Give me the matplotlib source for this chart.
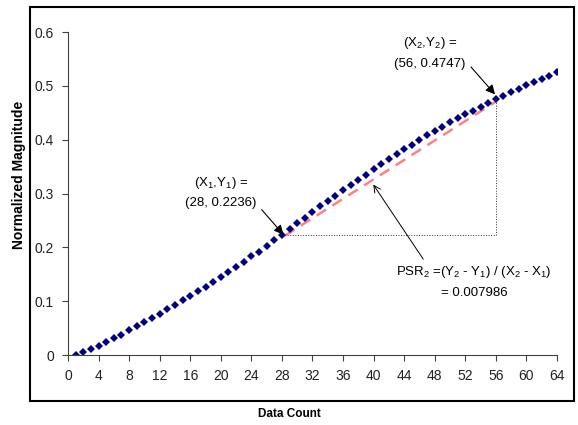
import matplotlib
matplotlib.use("Agg")
from matplotlib import pyplot as plt
from matplotlib.patches import Rectangle

plt.rcParams["font.family"] = ["Liberation Sans", "DejaVu Sans"]
plt.rcParams["mathtext.fontset"] = "custom"
plt.rcParams["mathtext.rm"] = "Liberation Sans"
plt.rcParams["mathtext.it"] = "Liberation Sans:italic"

# data
data_count = list(range(1, 65))
magnitude = [
    0.000, 0.005, 0.011, 0.017, 0.024, 0.031, 0.038, 0.046,
    0.053, 0.061, 0.069, 0.077, 0.085, 0.093, 0.102, 0.110,
    0.119, 0.127, 0.136, 0.145, 0.154, 0.164, 0.173, 0.183,
    0.192, 0.202, 0.213, 0.2236, 0.234, 0.245, 0.255, 0.266,
    0.276, 0.286, 0.296, 0.306, 0.316, 0.326, 0.335, 0.345,
    0.354, 0.364, 0.373, 0.382, 0.390, 0.399, 0.408, 0.416,
    0.424, 0.432, 0.440, 0.447, 0.454, 0.461, 0.468, 0.4747,
    0.481, 0.488, 0.494, 0.501, 0.507, 0.513, 0.519, 0.525,
]
x1, y1 = 28, 0.2236
x2, y2 = 56, 0.4747
x_ticks = list(range(0, 65, 4))
y_ticks = [0, 0.1, 0.2, 0.3, 0.4, 0.5, 0.6]
y_tick_labels = ["0", "0.1", "0.2", "0.3", "0.4", "0.5", "0.6"]

fig = plt.figure(figsize=(5.78, 4.25), dpi=100)
ax = fig.add_axes([0.1176, 0.1647, 0.846, 0.76])

# slope helper lines
ax.plot([x1, x2], [y1, y1], color="#333333", lw=0.7, ls=":")
ax.plot([x2, x2], [y1, y2], color="#333333", lw=0.7, ls=":")
ax.plot([x1 + 0.4, x2], [y1 - 0.002, y2 - 0.004], color="#FF8080", lw=1.8,
        dashes=(4.5, 3))

ax.plot(data_count, magnitude, ls="none", marker="D", ms=4.2, mew=0,
        color="#000080")

ax.set_xlim(0, 64)
ax.set_ylim(0, 0.6)
ax.set_xticks(x_ticks)
ax.set_yticks(y_ticks)
ax.set_yticklabels(y_tick_labels)
ax.tick_params(labelsize=10, length=4, width=0.8, color="#404040",
               labelcolor="#222222")
ax.tick_params(axis="x", pad=6)
ax.tick_params(axis="y", pad=6)
for side in ["top", "right"]:
    ax.spines[side].set_visible(False)
for side in ["left", "bottom"]:
    ax.spines[side].set_color("#404040")
    ax.spines[side].set_linewidth(0.8)

# annotations
filled = dict(arrowstyle="-|>", color="black", lw=0.8,
              mutation_scale=14, shrinkA=0, shrinkB=0)
ax.annotate("", xy=(28.2, 0.2236), xytext=(25.35, 0.270), arrowprops=filled)
ax.annotate("", xy=(55.9, 0.484), xytext=(52.75, 0.535), arrowprops=filled)
ax.annotate("", xy=(39.96, 0.3166), xytext=(46.5, 0.178),
            arrowprops=dict(arrowstyle="->", color="black", lw=0.7,
                            mutation_scale=12, shrinkA=0, shrinkB=0))

ax.text(20.0, 0.3197, "(X$_1$,Y$_1$) =", ha="center", va="center", fontsize=9.5)
ax.text(20.0, 0.2825, "(28, 0.2236)", ha="center", va="center", fontsize=9.5)
ax.text(47.4, 0.5804, "(X$_2$,Y$_2$) =", ha="center", va="center", fontsize=9.5)
ax.text(47.4, 0.5413, "(56, 0.4747)", ha="center", va="center", fontsize=9.5)
ax.text(53.07, 0.155, "PSR$_2$ =(Y$_2$ - Y$_1$) / (X$_2$ - X$_1$)",
        ha="center", va="center", fontsize=9.5)
ax.text(53.2, 0.115, "= 0.007986", ha="center", va="center", fontsize=9.5)

fig.text(0.033, 0.588, "Normalized Magnitude", rotation=90, ha="center",
         va="center", fontsize=10, fontweight="bold")
fig.text(0.501, 0.025, "Data Count", ha="center", va="center",
         fontsize=8.5, fontweight="bold")

# outer chart border
fig.patches.append(Rectangle((30 / 578, 24 / 425), 544 / 578, 394 / 425,
                             transform=fig.transFigure, fill=False,
                             lw=1.5, color="black"))

fig.savefig("out.png", dpi=100)
